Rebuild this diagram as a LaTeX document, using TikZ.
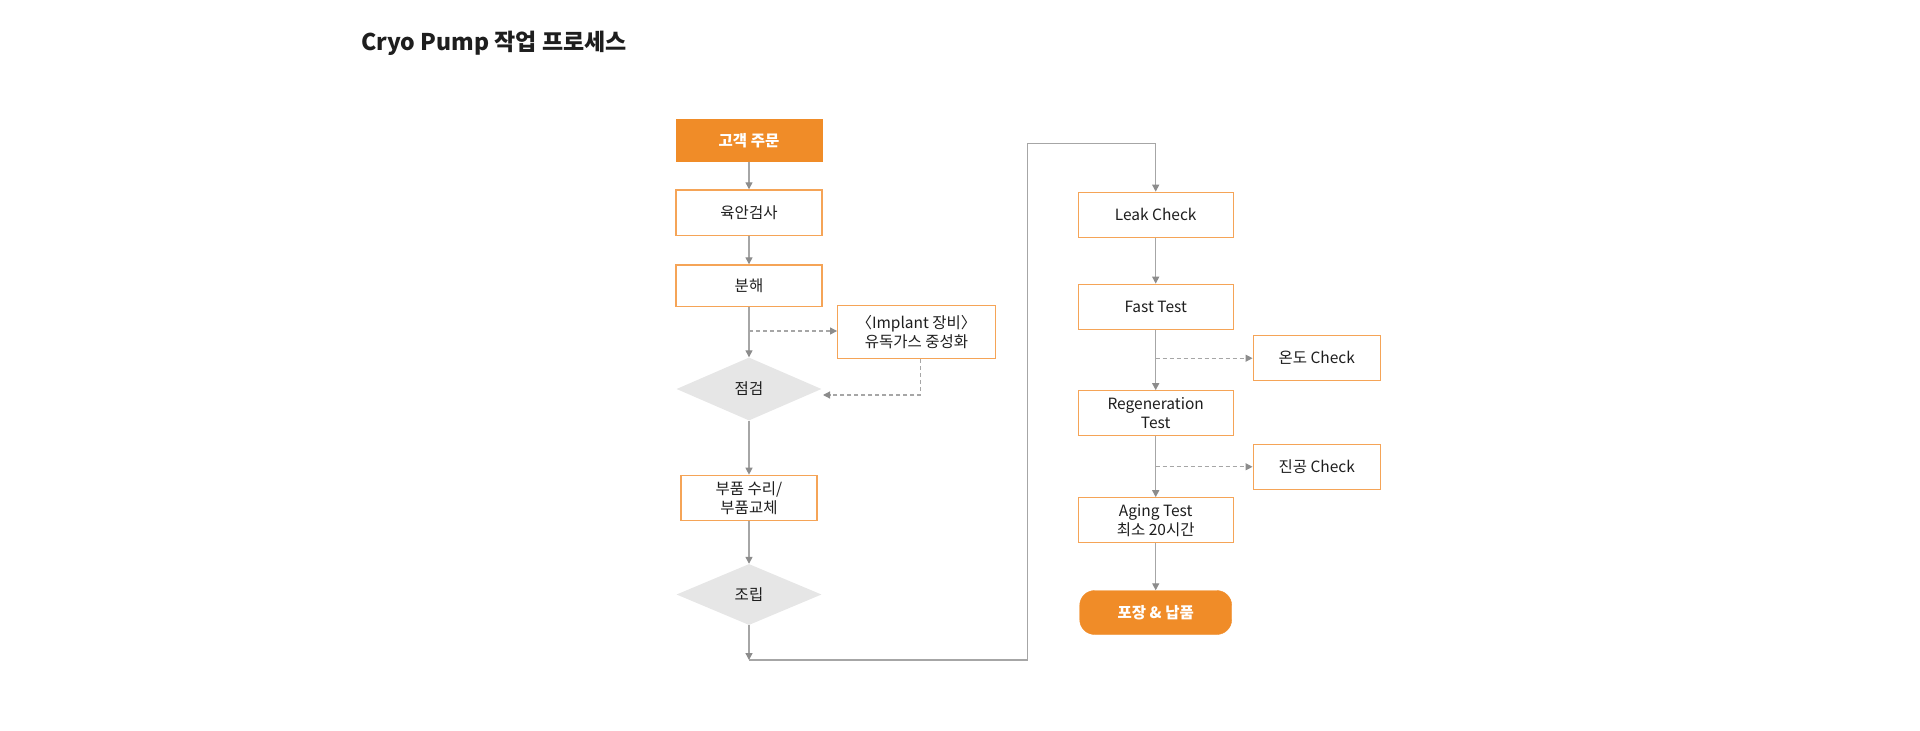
\documentclass[tikz,border=0pt]{standalone}
\usepackage{fontspec}
\setmainfont{Noto Sans CJK KR}
\usetikzlibrary{arrows.meta,shapes.geometric}
\definecolor{orangefill}{HTML}{F08C28}
\definecolor{orangeline}{HTML}{F5A457}
\definecolor{diagray}{HTML}{E6E6E6}
\definecolor{linegray}{HTML}{A6A6A6}
\definecolor{tipgray}{HTML}{8C8C8C}
\definecolor{txt}{HTML}{1E1E1E}
\tikzset{
  base/.style={font=\fontsize{15.5}{19}\selectfont, text=txt, align=center, inner sep=0pt},
  procbox/.style={base, draw=orangeline, line width=1.3pt, fill=white, minimum width=#1, minimum height=45pt},
  procbox/.default=146pt,
  startbox/.style={base, fill=orangefill, draw=orangefill, text=white, font=\fontsize{15.5}{19}\selectfont\bfseries, minimum width=146pt, minimum height=42pt},
  endbox/.style={base, fill=orangefill, draw=orangefill, text=white, font=\fontsize{15.5}{19}\selectfont\bfseries, minimum width=152pt, minimum height=44pt, rounded corners=15pt},
  decision/.style={base, diamond, fill=diagray, draw=none, minimum width=145pt, minimum height=63pt, aspect=2.3},
  conn/.style={draw=linegray, line width=1.3pt},
  arr/.style={conn, -{Triangle[length=7pt,width=7pt,color=tipgray]}},
  dasharr/.style={draw=linegray, line width=1.2pt, dash pattern=on 4pt off 3pt, -{Triangle[length=7pt,width=7pt,color=tipgray]}},
}
\begin{document}
\begin{tikzpicture}[x=1pt,y=-1pt]
\useasboundingbox (0,0) rectangle (1920,731);
\node[anchor=west, font=\fontsize{23}{27}\selectfont\bfseries, text=txt, inner sep=0pt] (title) at (361,43) {Cryo Pump 작업 프로세스};

% left column
\node[startbox] (order) at (749,140.5) {고객 주문};
\node[procbox, minimum height=45.7pt] (visual) at (749,212.8) {육안검사};
\node[procbox, minimum height=41.7pt] (disasm) at (749,285.8) {분해};
\node[procbox=157.6pt, minimum height=53pt] (implant) at (916.5,332.2) {〈Implant 장비〉\\유독가스 중성화};
\node[decision] (inspect) at (749,389) {점검};
\node[procbox=136pt, minimum height=45.4pt] (repair) at (749,498) {부품 수리/\\부품교체};
\node[decision, minimum height=61pt] (assemble) at (749,594.5) {조립};

% right column
\node[procbox=155pt] (leak) at (1155.7,214.8) {Leak Check};
\node[procbox=155pt] (fast) at (1155.7,306.8) {Fast Test};
\node[procbox=155pt] (regen) at (1155.7,413.3) {Regeneration\\Test};
\node[procbox=155pt] (aging) at (1155.7,520.3) {Aging Test\\최소 20시간};
\node[endbox] (pack) at (1155.7,612.5) {포장 \& 납품};
\node[procbox=127pt] (temp) at (1316.7,358.2) {온도 Check};
\node[procbox=127pt] (vac) at (1316.7,466.8) {진공 Check};

% coordinates
\coordinate (d1) at (749,331);
\coordinate (d2) at (920.7,395);
\coordinate (d3) at (823,395);
\coordinate (c1) at (749,660);
\coordinate (c2) at (1027.3,660);
\coordinate (c3) at (1027.3,143.3);
\coordinate (c4) at (1155.7,143.3);
\coordinate (t1) at (1155.7,358.2);
\coordinate (v1) at (1155.7,466.8);

% connectors left
\draw[arr] (order) -- (visual);
\draw[arr] (visual) -- (disasm);
\draw[arr] (disasm) -- (inspect);
\draw[dasharr] (d1) -- (d1 -| implant.west);
\draw[dasharr] (implant.south -| d2) -- (d2) -- (d3);
\draw[arr] (inspect) -- (repair);
\draw[arr] (repair) -- (assemble);
\draw[arr] (assemble) -- (c1);
\draw[conn] (c1) -- (c2) -- (c3) -- (c4);
\draw[arr] (c4) -- (leak);

% connectors right
\draw[arr] (leak) -- (fast);
\draw[arr] (fast) -- (regen);
\draw[dasharr] (t1) -- (temp);
\draw[arr] (regen) -- (aging);
\draw[dasharr] (v1) -- (vac);
\draw[arr] (aging) -- (pack);
\end{tikzpicture}
\end{document}
